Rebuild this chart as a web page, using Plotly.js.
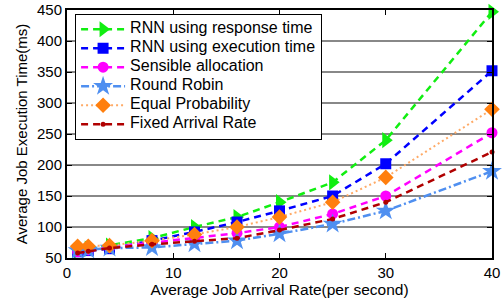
<!DOCTYPE html>
<html>
<head>
<meta charset="utf-8">
<script src="https://cdn.plot.ly/plotly-3.0.1.min.js"></script>
<style>
html,body{margin:0;padding:0;background:#fff;}
#chart{width:504px;height:302px;}
.legendtext{font-size:16px !important;}
</style>
</head>
<body>
<div id="chart"></div>
<script>
var arrivalRate = [1, 2, 4, 8, 12, 16, 20, 25, 30, 40];
var rnnResponse = [62, 65, 70, 82, 100, 116, 140, 172, 240, 447];
var rnnExecution = [60, 62, 65, 78, 92, 108, 126, 150, 202, 352];
var sensible = [60, 63, 67, 75, 82, 90, 100, 121, 150, 252];
var roundRobin = [62, 63, 66, 67, 73, 78, 89, 105, 126, 190];
var equalProb = [69, 69, 70, 78, 88, 100, 116, 140, 180, 290];
var fixedRate = [58, 61, 66, 72, 77, 82, 95, 113, 140, 221];
var seriesNames = ["RNN using response time", "RNN using execution time", "Sensible allocation", "Round Robin", "Equal Probability", "Fixed Arrival Rate"];
var yTicks = [50, 100, 150, 200, 250, 300, 350, 400, 450];
var xTicks = [0, 10, 20, 30, 40];
var blackGrid = [100, 200, 300, 400];

var F = "Liberation Sans, Arial, sans-serif";
function tr(y, name, color, dash, width, symbol, size, mcolor) {
  return {
    x: arrivalRate, y: y, name: name, type: "scatter", mode: "lines+markers",
    cliponaxis: false,
    line: {color: color, dash: dash, width: width},
    marker: {symbol: symbol, size: size, color: mcolor || color, line: {width: 0}}
  };
}
var data = [
  tr(rnnResponse, seriesNames[0], "#11ee11", "7px,5px", 2.5, "triangle-right", 14),
  tr(rnnExecution, seriesNames[1], "#0000ff", "7px,5px", 2.5, "square", 11),
  tr(sensible, seriesNames[2], "#ff00ff", "7px,5px", 2.5, "circle", 11),
  tr(roundRobin, seriesNames[3], "#4f8ff0", "8px,3px,2px,3px", 2.5, "star", 15),
  tr(equalProb, seriesNames[4], "#ffaa66", "2px,3px", 2, "diamond", 12, "#ff7f0e"),
  tr(fixedRate, seriesNames[5], "#b00000", "7px,5px", 2.5, "circle", 5)
];
var shapes = blackGrid.map(function(v){
  return {type: "line", xref: "paper", x0: 0, x1: 1, yref: "y", y0: v, y1: v, layer: "below",
          line: {color: "#000", width: 1.3}};
});
var layout = {
  width: 504, height: 302,
  margin: {l: 67, r: 12, t: 10, b: 44},
  paper_bgcolor: "#fff", plot_bgcolor: "#fff",
  font: {family: F, color: "#000"},
  showlegend: true,
  legend: {x: 0.019, y: 0.985, xanchor: "left", yanchor: "top",
           bgcolor: "#fff", bordercolor: "#000", borderwidth: 1,
           itemwidth: 44,
           font: {family: F, size: 10.8, color: "#000"}, tracegroupgap: 0},
  xaxis: {range: [0, 40], tickvals: xTicks, ticktext: xTicks.map(String),
          showgrid: false, zeroline: false, showline: true, linecolor: "#000", linewidth: 2,
          mirror: "ticks", ticks: "inside", ticklen: 5, tickcolor: "#000",
          tickfont: {family: F, size: 15},
          title: {text: "Average Job Arrival Rate(per second)", font: {family: F, size: 15.5}, standoff: 0}},
  yaxis: {range: [50, 450], tickvals: yTicks, ticktext: yTicks.map(String),
          showgrid: true, gridcolor: "#888", gridwidth: 2, zeroline: false,
          showline: true, linecolor: "#000", linewidth: 2,
          mirror: "ticks", ticks: "inside", ticklen: 5, tickcolor: "#000",
          tickfont: {family: F, size: 15},
          title: {text: "Average Job Execution Time(ms)", font: {family: F, size: 15}, standoff: 6}},
  shapes: shapes
};
Plotly.newPlot("chart", data, layout, {displayModeBar: false, staticPlot: true});
</script>
</body>
</html>
